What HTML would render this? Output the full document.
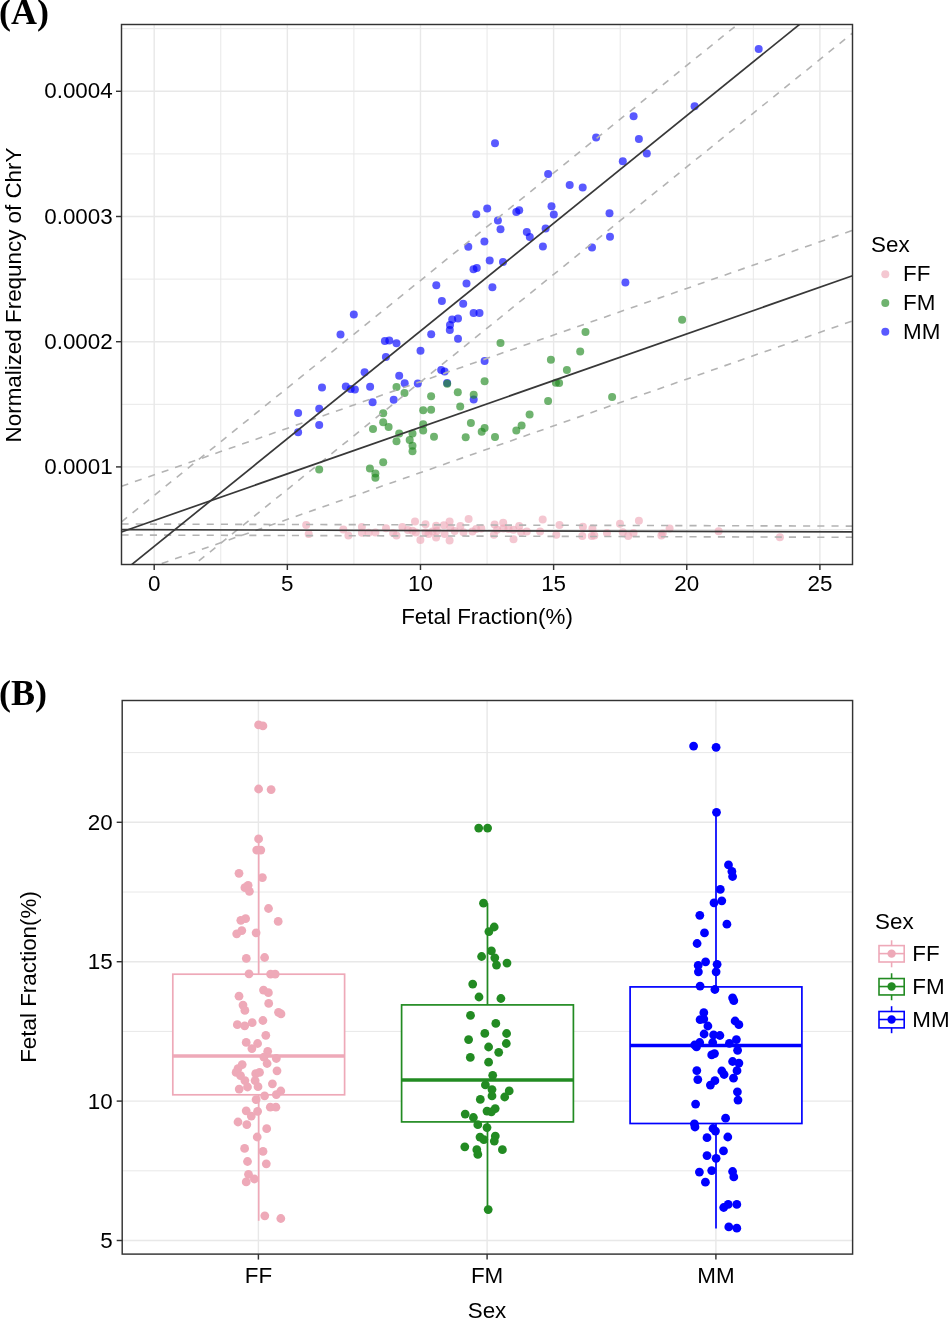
<!DOCTYPE html>
<html><head><meta charset="utf-8"><style>html,body{margin:0;padding:0;background:#fff;}svg{display:block;will-change:transform;}</style></head>
<body><svg width="948" height="1320" viewBox="0 0 948 1320">
<defs><clipPath id="clipA"><rect x="121.5" y="24.5" width="731" height="540"/></clipPath></defs>
<rect width="948" height="1320" fill="#fff"/>
<rect x="121.5" y="24.5" width="731.0" height="540.0" fill="#fff"/>
<line x1="220.77" y1="24.5" x2="220.77" y2="564.5" stroke="#e8e8e8" stroke-width="1.0"/>
<line x1="353.91" y1="24.5" x2="353.91" y2="564.5" stroke="#e8e8e8" stroke-width="1.0"/>
<line x1="487.05" y1="24.5" x2="487.05" y2="564.5" stroke="#e8e8e8" stroke-width="1.0"/>
<line x1="620.19" y1="24.5" x2="620.19" y2="564.5" stroke="#e8e8e8" stroke-width="1.0"/>
<line x1="753.33" y1="24.5" x2="753.33" y2="564.5" stroke="#e8e8e8" stroke-width="1.0"/>
<line x1="121.5" y1="529.50" x2="852.5" y2="529.50" stroke="#e8e8e8" stroke-width="1.0"/>
<line x1="121.5" y1="404.30" x2="852.5" y2="404.30" stroke="#e8e8e8" stroke-width="1.0"/>
<line x1="121.5" y1="279.10" x2="852.5" y2="279.10" stroke="#e8e8e8" stroke-width="1.0"/>
<line x1="121.5" y1="153.90" x2="852.5" y2="153.90" stroke="#e8e8e8" stroke-width="1.0"/>
<line x1="121.5" y1="28.70" x2="852.5" y2="28.70" stroke="#e8e8e8" stroke-width="1.0"/>
<line x1="154.20" y1="24.5" x2="154.20" y2="564.5" stroke="#e8e8e8" stroke-width="1.4"/>
<line x1="287.34" y1="24.5" x2="287.34" y2="564.5" stroke="#e8e8e8" stroke-width="1.4"/>
<line x1="420.48" y1="24.5" x2="420.48" y2="564.5" stroke="#e8e8e8" stroke-width="1.4"/>
<line x1="553.62" y1="24.5" x2="553.62" y2="564.5" stroke="#e8e8e8" stroke-width="1.4"/>
<line x1="686.76" y1="24.5" x2="686.76" y2="564.5" stroke="#e8e8e8" stroke-width="1.4"/>
<line x1="819.90" y1="24.5" x2="819.90" y2="564.5" stroke="#e8e8e8" stroke-width="1.4"/>
<line x1="121.5" y1="466.90" x2="852.5" y2="466.90" stroke="#e8e8e8" stroke-width="1.4"/>
<line x1="121.5" y1="341.70" x2="852.5" y2="341.70" stroke="#e8e8e8" stroke-width="1.4"/>
<line x1="121.5" y1="216.50" x2="852.5" y2="216.50" stroke="#e8e8e8" stroke-width="1.4"/>
<line x1="121.5" y1="91.30" x2="852.5" y2="91.30" stroke="#e8e8e8" stroke-width="1.4"/>
<g>
<circle cx="306.2" cy="524.9" r="4" fill="#eea9b8" fill-opacity="0.65"/>
<circle cx="308.7" cy="534.1" r="4" fill="#eea9b8" fill-opacity="0.65"/>
<circle cx="343.3" cy="529.4" r="4" fill="#eea9b8" fill-opacity="0.65"/>
<circle cx="348.4" cy="535.5" r="4" fill="#eea9b8" fill-opacity="0.65"/>
<circle cx="361.9" cy="527.0" r="4" fill="#eea9b8" fill-opacity="0.65"/>
<circle cx="361.9" cy="532.8" r="4" fill="#eea9b8" fill-opacity="0.65"/>
<circle cx="368.6" cy="532.8" r="4" fill="#eea9b8" fill-opacity="0.65"/>
<circle cx="375.4" cy="532.4" r="4" fill="#eea9b8" fill-opacity="0.65"/>
<circle cx="386.0" cy="528.2" r="4" fill="#eea9b8" fill-opacity="0.65"/>
<circle cx="393.1" cy="532.9" r="4" fill="#eea9b8" fill-opacity="0.65"/>
<circle cx="396.5" cy="535.5" r="4" fill="#eea9b8" fill-opacity="0.65"/>
<circle cx="402.4" cy="527.0" r="4" fill="#eea9b8" fill-opacity="0.65"/>
<circle cx="407.9" cy="529.9" r="4" fill="#eea9b8" fill-opacity="0.65"/>
<circle cx="412.5" cy="530.8" r="4" fill="#eea9b8" fill-opacity="0.65"/>
<circle cx="415.0" cy="521.5" r="4" fill="#eea9b8" fill-opacity="0.65"/>
<circle cx="415.9" cy="532.4" r="4" fill="#eea9b8" fill-opacity="0.65"/>
<circle cx="420.4" cy="540.0" r="4" fill="#eea9b8" fill-opacity="0.65"/>
<circle cx="425.5" cy="524.3" r="4" fill="#eea9b8" fill-opacity="0.65"/>
<circle cx="425.5" cy="532.4" r="4" fill="#eea9b8" fill-opacity="0.65"/>
<circle cx="428.5" cy="534.1" r="4" fill="#eea9b8" fill-opacity="0.65"/>
<circle cx="436.1" cy="525.7" r="4" fill="#eea9b8" fill-opacity="0.65"/>
<circle cx="436.1" cy="537.5" r="4" fill="#eea9b8" fill-opacity="0.65"/>
<circle cx="437.0" cy="530.8" r="4" fill="#eea9b8" fill-opacity="0.65"/>
<circle cx="432.5" cy="531.6" r="4" fill="#eea9b8" fill-opacity="0.65"/>
<circle cx="443.9" cy="525.3" r="4" fill="#eea9b8" fill-opacity="0.65"/>
<circle cx="444.6" cy="534.1" r="4" fill="#eea9b8" fill-opacity="0.65"/>
<circle cx="449.6" cy="521.5" r="4" fill="#eea9b8" fill-opacity="0.65"/>
<circle cx="450.3" cy="527.8" r="4" fill="#eea9b8" fill-opacity="0.65"/>
<circle cx="449.6" cy="540.4" r="4" fill="#eea9b8" fill-opacity="0.65"/>
<circle cx="454.7" cy="531.0" r="4" fill="#eea9b8" fill-opacity="0.65"/>
<circle cx="460.4" cy="525.9" r="4" fill="#eea9b8" fill-opacity="0.65"/>
<circle cx="463.5" cy="532.2" r="4" fill="#eea9b8" fill-opacity="0.65"/>
<circle cx="468.6" cy="518.9" r="4" fill="#eea9b8" fill-opacity="0.65"/>
<circle cx="472.4" cy="531.6" r="4" fill="#eea9b8" fill-opacity="0.65"/>
<circle cx="476.2" cy="529.1" r="4" fill="#eea9b8" fill-opacity="0.65"/>
<circle cx="481.3" cy="528.4" r="4" fill="#eea9b8" fill-opacity="0.65"/>
<circle cx="494.6" cy="524.6" r="4" fill="#eea9b8" fill-opacity="0.65"/>
<circle cx="493.9" cy="534.7" r="4" fill="#eea9b8" fill-opacity="0.65"/>
<circle cx="497.1" cy="529.7" r="4" fill="#eea9b8" fill-opacity="0.65"/>
<circle cx="503.2" cy="522.7" r="4" fill="#eea9b8" fill-opacity="0.65"/>
<circle cx="503.4" cy="528.4" r="4" fill="#eea9b8" fill-opacity="0.65"/>
<circle cx="508.5" cy="529.1" r="4" fill="#eea9b8" fill-opacity="0.65"/>
<circle cx="513.5" cy="529.7" r="4" fill="#eea9b8" fill-opacity="0.65"/>
<circle cx="513.5" cy="539.2" r="4" fill="#eea9b8" fill-opacity="0.65"/>
<circle cx="519.2" cy="525.9" r="4" fill="#eea9b8" fill-opacity="0.65"/>
<circle cx="521.1" cy="532.2" r="4" fill="#eea9b8" fill-opacity="0.65"/>
<circle cx="526.8" cy="531.6" r="4" fill="#eea9b8" fill-opacity="0.65"/>
<circle cx="540.1" cy="531.6" r="4" fill="#eea9b8" fill-opacity="0.65"/>
<circle cx="542.7" cy="519.6" r="4" fill="#eea9b8" fill-opacity="0.65"/>
<circle cx="559.5" cy="525.0" r="4" fill="#eea9b8" fill-opacity="0.65"/>
<circle cx="556.3" cy="534.7" r="4" fill="#eea9b8" fill-opacity="0.65"/>
<circle cx="582.9" cy="526.8" r="4" fill="#eea9b8" fill-opacity="0.65"/>
<circle cx="582.3" cy="536.0" r="4" fill="#eea9b8" fill-opacity="0.65"/>
<circle cx="592.4" cy="528.4" r="4" fill="#eea9b8" fill-opacity="0.65"/>
<circle cx="591.8" cy="536.0" r="4" fill="#eea9b8" fill-opacity="0.65"/>
<circle cx="594.3" cy="535.4" r="4" fill="#eea9b8" fill-opacity="0.65"/>
<circle cx="607.0" cy="533.1" r="4" fill="#eea9b8" fill-opacity="0.65"/>
<circle cx="620.0" cy="523.7" r="4" fill="#eea9b8" fill-opacity="0.65"/>
<circle cx="622.8" cy="532.2" r="4" fill="#eea9b8" fill-opacity="0.65"/>
<circle cx="628.2" cy="536.0" r="4" fill="#eea9b8" fill-opacity="0.65"/>
<circle cx="633.5" cy="533.1" r="4" fill="#eea9b8" fill-opacity="0.65"/>
<circle cx="638.9" cy="520.8" r="4" fill="#eea9b8" fill-opacity="0.65"/>
<circle cx="661.4" cy="535.4" r="4" fill="#eea9b8" fill-opacity="0.65"/>
<circle cx="662.7" cy="533.5" r="4" fill="#eea9b8" fill-opacity="0.65"/>
<circle cx="669.6" cy="528.4" r="4" fill="#eea9b8" fill-opacity="0.65"/>
<circle cx="718.6" cy="531.3" r="4" fill="#eea9b8" fill-opacity="0.65"/>
<circle cx="779.9" cy="537.2" r="4" fill="#eea9b8" fill-opacity="0.65"/>
<circle cx="682.1" cy="319.7" r="4" fill="#228b22" fill-opacity="0.65"/>
<circle cx="585.5" cy="332.1" r="4" fill="#228b22" fill-opacity="0.65"/>
<circle cx="396.5" cy="387.0" r="4" fill="#228b22" fill-opacity="0.65"/>
<circle cx="404.5" cy="392.9" r="4" fill="#228b22" fill-opacity="0.65"/>
<circle cx="431.1" cy="396.2" r="4" fill="#228b22" fill-opacity="0.65"/>
<circle cx="457.8" cy="392.2" r="4" fill="#228b22" fill-opacity="0.65"/>
<circle cx="423.2" cy="410.2" r="4" fill="#228b22" fill-opacity="0.65"/>
<circle cx="431.1" cy="409.7" r="4" fill="#228b22" fill-opacity="0.65"/>
<circle cx="460.2" cy="406.4" r="4" fill="#228b22" fill-opacity="0.65"/>
<circle cx="383.2" cy="413.3" r="4" fill="#228b22" fill-opacity="0.65"/>
<circle cx="383.2" cy="422.2" r="4" fill="#228b22" fill-opacity="0.65"/>
<circle cx="388.6" cy="427.0" r="4" fill="#228b22" fill-opacity="0.65"/>
<circle cx="373.0" cy="428.9" r="4" fill="#228b22" fill-opacity="0.65"/>
<circle cx="423.2" cy="424.3" r="4" fill="#228b22" fill-opacity="0.65"/>
<circle cx="423.2" cy="430.6" r="4" fill="#228b22" fill-opacity="0.65"/>
<circle cx="470.9" cy="423.0" r="4" fill="#228b22" fill-opacity="0.65"/>
<circle cx="399.2" cy="433.6" r="4" fill="#228b22" fill-opacity="0.65"/>
<circle cx="412.5" cy="433.6" r="4" fill="#228b22" fill-opacity="0.65"/>
<circle cx="434.0" cy="436.8" r="4" fill="#228b22" fill-opacity="0.65"/>
<circle cx="465.7" cy="437.2" r="4" fill="#228b22" fill-opacity="0.65"/>
<circle cx="396.5" cy="441.2" r="4" fill="#228b22" fill-opacity="0.65"/>
<circle cx="409.7" cy="439.9" r="4" fill="#228b22" fill-opacity="0.65"/>
<circle cx="412.5" cy="445.8" r="4" fill="#228b22" fill-opacity="0.65"/>
<circle cx="412.5" cy="451.3" r="4" fill="#228b22" fill-opacity="0.65"/>
<circle cx="383.2" cy="462.3" r="4" fill="#228b22" fill-opacity="0.65"/>
<circle cx="319.2" cy="469.5" r="4" fill="#228b22" fill-opacity="0.65"/>
<circle cx="369.9" cy="468.6" r="4" fill="#228b22" fill-opacity="0.65"/>
<circle cx="375.4" cy="473.5" r="4" fill="#228b22" fill-opacity="0.65"/>
<circle cx="375.4" cy="477.7" r="4" fill="#228b22" fill-opacity="0.65"/>
<circle cx="500.5" cy="343.1" r="4" fill="#228b22" fill-opacity="0.65"/>
<circle cx="580.2" cy="351.5" r="4" fill="#228b22" fill-opacity="0.65"/>
<circle cx="550.9" cy="359.7" r="4" fill="#228b22" fill-opacity="0.65"/>
<circle cx="566.9" cy="369.9" r="4" fill="#228b22" fill-opacity="0.65"/>
<circle cx="484.6" cy="381.3" r="4" fill="#228b22" fill-opacity="0.65"/>
<circle cx="555.9" cy="382.7" r="4" fill="#228b22" fill-opacity="0.65"/>
<circle cx="559.1" cy="383.0" r="4" fill="#228b22" fill-opacity="0.65"/>
<circle cx="612.1" cy="397.1" r="4" fill="#228b22" fill-opacity="0.65"/>
<circle cx="548.1" cy="400.9" r="4" fill="#228b22" fill-opacity="0.65"/>
<circle cx="529.6" cy="414.4" r="4" fill="#228b22" fill-opacity="0.65"/>
<circle cx="521.6" cy="425.4" r="4" fill="#228b22" fill-opacity="0.65"/>
<circle cx="516.3" cy="430.6" r="4" fill="#228b22" fill-opacity="0.65"/>
<circle cx="484.6" cy="427.9" r="4" fill="#228b22" fill-opacity="0.65"/>
<circle cx="481.7" cy="431.7" r="4" fill="#228b22" fill-opacity="0.65"/>
<circle cx="495.0" cy="437.0" r="4" fill="#228b22" fill-opacity="0.65"/>
<circle cx="495.0" cy="143.2" r="4" fill="#0000ff" fill-opacity="0.65"/>
<circle cx="548.1" cy="174.0" r="4" fill="#0000ff" fill-opacity="0.65"/>
<circle cx="596.1" cy="137.6" r="4" fill="#0000ff" fill-opacity="0.65"/>
<circle cx="633.6" cy="116.3" r="4" fill="#0000ff" fill-opacity="0.65"/>
<circle cx="638.9" cy="138.9" r="4" fill="#0000ff" fill-opacity="0.65"/>
<circle cx="622.8" cy="161.2" r="4" fill="#0000ff" fill-opacity="0.65"/>
<circle cx="646.8" cy="153.4" r="4" fill="#0000ff" fill-opacity="0.65"/>
<circle cx="694.6" cy="106.2" r="4" fill="#0000ff" fill-opacity="0.65"/>
<circle cx="758.7" cy="49.0" r="4" fill="#0000ff" fill-opacity="0.65"/>
<circle cx="476.3" cy="214.2" r="4" fill="#0000ff" fill-opacity="0.65"/>
<circle cx="468.3" cy="246.7" r="4" fill="#0000ff" fill-opacity="0.65"/>
<circle cx="473.5" cy="269.2" r="4" fill="#0000ff" fill-opacity="0.65"/>
<circle cx="476.8" cy="268.0" r="4" fill="#0000ff" fill-opacity="0.65"/>
<circle cx="436.3" cy="285.3" r="4" fill="#0000ff" fill-opacity="0.65"/>
<circle cx="466.5" cy="283.4" r="4" fill="#0000ff" fill-opacity="0.65"/>
<circle cx="441.9" cy="301.0" r="4" fill="#0000ff" fill-opacity="0.65"/>
<circle cx="463.2" cy="303.8" r="4" fill="#0000ff" fill-opacity="0.65"/>
<circle cx="353.8" cy="314.6" r="4" fill="#0000ff" fill-opacity="0.65"/>
<circle cx="473.6" cy="313.0" r="4" fill="#0000ff" fill-opacity="0.65"/>
<circle cx="479.5" cy="313.0" r="4" fill="#0000ff" fill-opacity="0.65"/>
<circle cx="452.2" cy="319.5" r="4" fill="#0000ff" fill-opacity="0.65"/>
<circle cx="458.0" cy="318.5" r="4" fill="#0000ff" fill-opacity="0.65"/>
<circle cx="450.0" cy="325.0" r="4" fill="#0000ff" fill-opacity="0.65"/>
<circle cx="569.7" cy="184.9" r="4" fill="#0000ff" fill-opacity="0.65"/>
<circle cx="582.7" cy="187.6" r="4" fill="#0000ff" fill-opacity="0.65"/>
<circle cx="487.2" cy="208.5" r="4" fill="#0000ff" fill-opacity="0.65"/>
<circle cx="516.3" cy="211.9" r="4" fill="#0000ff" fill-opacity="0.65"/>
<circle cx="519.2" cy="210.2" r="4" fill="#0000ff" fill-opacity="0.65"/>
<circle cx="551.5" cy="206.2" r="4" fill="#0000ff" fill-opacity="0.65"/>
<circle cx="553.8" cy="214.6" r="4" fill="#0000ff" fill-opacity="0.65"/>
<circle cx="609.5" cy="213.3" r="4" fill="#0000ff" fill-opacity="0.65"/>
<circle cx="497.9" cy="220.5" r="4" fill="#0000ff" fill-opacity="0.65"/>
<circle cx="500.5" cy="229.2" r="4" fill="#0000ff" fill-opacity="0.65"/>
<circle cx="526.8" cy="232.1" r="4" fill="#0000ff" fill-opacity="0.65"/>
<circle cx="529.8" cy="237.0" r="4" fill="#0000ff" fill-opacity="0.65"/>
<circle cx="545.6" cy="228.5" r="4" fill="#0000ff" fill-opacity="0.65"/>
<circle cx="610.0" cy="236.8" r="4" fill="#0000ff" fill-opacity="0.65"/>
<circle cx="484.4" cy="241.6" r="4" fill="#0000ff" fill-opacity="0.65"/>
<circle cx="542.9" cy="246.5" r="4" fill="#0000ff" fill-opacity="0.65"/>
<circle cx="592.0" cy="247.5" r="4" fill="#0000ff" fill-opacity="0.65"/>
<circle cx="489.7" cy="260.4" r="4" fill="#0000ff" fill-opacity="0.65"/>
<circle cx="503.0" cy="261.9" r="4" fill="#0000ff" fill-opacity="0.65"/>
<circle cx="625.4" cy="282.5" r="4" fill="#0000ff" fill-opacity="0.65"/>
<circle cx="492.4" cy="287.2" r="4" fill="#0000ff" fill-opacity="0.65"/>
<circle cx="449.8" cy="330.1" r="4" fill="#0000ff" fill-opacity="0.65"/>
<circle cx="340.5" cy="334.6" r="4" fill="#0000ff" fill-opacity="0.65"/>
<circle cx="384.9" cy="341.0" r="4" fill="#0000ff" fill-opacity="0.65"/>
<circle cx="389.3" cy="340.5" r="4" fill="#0000ff" fill-opacity="0.65"/>
<circle cx="396.5" cy="343.3" r="4" fill="#0000ff" fill-opacity="0.65"/>
<circle cx="431.2" cy="334.3" r="4" fill="#0000ff" fill-opacity="0.65"/>
<circle cx="458.0" cy="338.8" r="4" fill="#0000ff" fill-opacity="0.65"/>
<circle cx="420.5" cy="350.7" r="4" fill="#0000ff" fill-opacity="0.65"/>
<circle cx="385.9" cy="357.0" r="4" fill="#0000ff" fill-opacity="0.65"/>
<circle cx="364.6" cy="372.2" r="4" fill="#0000ff" fill-opacity="0.65"/>
<circle cx="399.2" cy="375.8" r="4" fill="#0000ff" fill-opacity="0.65"/>
<circle cx="441.2" cy="370.1" r="4" fill="#0000ff" fill-opacity="0.65"/>
<circle cx="444.6" cy="371.4" r="4" fill="#0000ff" fill-opacity="0.65"/>
<circle cx="322.0" cy="387.6" r="4" fill="#0000ff" fill-opacity="0.65"/>
<circle cx="345.8" cy="386.5" r="4" fill="#0000ff" fill-opacity="0.65"/>
<circle cx="350.7" cy="389.1" r="4" fill="#0000ff" fill-opacity="0.65"/>
<circle cx="354.9" cy="389.5" r="4" fill="#0000ff" fill-opacity="0.65"/>
<circle cx="370.1" cy="386.8" r="4" fill="#0000ff" fill-opacity="0.65"/>
<circle cx="404.7" cy="383.2" r="4" fill="#0000ff" fill-opacity="0.65"/>
<circle cx="417.8" cy="383.4" r="4" fill="#0000ff" fill-opacity="0.65"/>
<circle cx="447.1" cy="383.1" r="4" fill="#0000ff" fill-opacity="0.65"/>
<circle cx="372.6" cy="402.2" r="4" fill="#0000ff" fill-opacity="0.65"/>
<circle cx="393.7" cy="399.8" r="4" fill="#0000ff" fill-opacity="0.65"/>
<circle cx="473.7" cy="399.4" r="4" fill="#0000ff" fill-opacity="0.65"/>
<circle cx="298.1" cy="412.9" r="4" fill="#0000ff" fill-opacity="0.65"/>
<circle cx="319.2" cy="408.7" r="4" fill="#0000ff" fill-opacity="0.65"/>
<circle cx="319.2" cy="425.1" r="4" fill="#0000ff" fill-opacity="0.65"/>
<circle cx="298.1" cy="432.3" r="4" fill="#0000ff" fill-opacity="0.65"/>
<circle cx="484.6" cy="361.0" r="4" fill="#0000ff" fill-opacity="0.65"/>
<circle cx="447.2" cy="383.8" r="4" fill="#228b22" fill-opacity="0.65"/>
<circle cx="473.7" cy="394.8" r="4" fill="#228b22" fill-opacity="0.65"/>
</g>
<g clip-path="url(#clipA)">
<line x1="121.50" y1="524.00" x2="852.50" y2="526.10" stroke="#b3b3b3" stroke-width="1.6" stroke-dasharray="7.1 7.1"/>
<line x1="121.50" y1="535.00" x2="852.50" y2="537.30" stroke="#b3b3b3" stroke-width="1.6" stroke-dasharray="7.1 7.1"/>
<line x1="121.50" y1="486.31" x2="852.50" y2="230.39" stroke="#b3b3b3" stroke-width="1.6" stroke-dasharray="7.1 7.1"/>
<line x1="121.50" y1="577.60" x2="852.50" y2="320.89" stroke="#b3b3b3" stroke-width="1.6" stroke-dasharray="7.1 7.1"/>
<line x1="121.50" y1="521.86" x2="852.50" y2="-68.35" stroke="#b3b3b3" stroke-width="1.6" stroke-dasharray="7.1 7.1"/>
<line x1="121.50" y1="623.39" x2="852.50" y2="33.10" stroke="#b3b3b3" stroke-width="1.6" stroke-dasharray="7.1 7.1"/>
<line x1="121.50" y1="529.60" x2="852.50" y2="531.90" stroke="#383838" stroke-width="1.7"/>
<line x1="121.50" y1="531.95" x2="852.50" y2="275.78" stroke="#383838" stroke-width="1.7"/>
<line x1="121.50" y1="572.83" x2="852.50" y2="-18.42" stroke="#383838" stroke-width="1.7"/>
</g>
<rect x="121.5" y="24.5" width="731.0" height="540.0" fill="none" stroke="#333" stroke-width="1.45"/>
<line x1="154.20" y1="564.5" x2="154.20" y2="570.0" stroke="#333" stroke-width="1.45"/>
<text x="154.20" y="591" font-family="Liberation Sans, sans-serif" font-size="22.4" text-anchor="middle">0</text>
<line x1="287.34" y1="564.5" x2="287.34" y2="570.0" stroke="#333" stroke-width="1.45"/>
<text x="287.34" y="591" font-family="Liberation Sans, sans-serif" font-size="22.4" text-anchor="middle">5</text>
<line x1="420.48" y1="564.5" x2="420.48" y2="570.0" stroke="#333" stroke-width="1.45"/>
<text x="420.48" y="591" font-family="Liberation Sans, sans-serif" font-size="22.4" text-anchor="middle">10</text>
<line x1="553.62" y1="564.5" x2="553.62" y2="570.0" stroke="#333" stroke-width="1.45"/>
<text x="553.62" y="591" font-family="Liberation Sans, sans-serif" font-size="22.4" text-anchor="middle">15</text>
<line x1="686.76" y1="564.5" x2="686.76" y2="570.0" stroke="#333" stroke-width="1.45"/>
<text x="686.76" y="591" font-family="Liberation Sans, sans-serif" font-size="22.4" text-anchor="middle">20</text>
<line x1="819.90" y1="564.5" x2="819.90" y2="570.0" stroke="#333" stroke-width="1.45"/>
<text x="819.90" y="591" font-family="Liberation Sans, sans-serif" font-size="22.4" text-anchor="middle">25</text>
<line x1="116.0" y1="466.90" x2="121.5" y2="466.90" stroke="#333" stroke-width="1.45"/>
<text x="112.7" y="473.90" font-family="Liberation Sans, sans-serif" font-size="22.4" text-anchor="end">0.0001</text>
<line x1="116.0" y1="341.70" x2="121.5" y2="341.70" stroke="#333" stroke-width="1.45"/>
<text x="112.7" y="348.70" font-family="Liberation Sans, sans-serif" font-size="22.4" text-anchor="end">0.0002</text>
<line x1="116.0" y1="216.50" x2="121.5" y2="216.50" stroke="#333" stroke-width="1.45"/>
<text x="112.7" y="223.50" font-family="Liberation Sans, sans-serif" font-size="22.4" text-anchor="end">0.0003</text>
<line x1="116.0" y1="91.30" x2="121.5" y2="91.30" stroke="#333" stroke-width="1.45"/>
<text x="112.7" y="98.30" font-family="Liberation Sans, sans-serif" font-size="22.4" text-anchor="end">0.0004</text>
<text x="487" y="624" font-family="Liberation Sans, sans-serif" font-size="22.4" text-anchor="middle">Fetal Fraction(%)</text>
<text transform="translate(21,295) rotate(-90)" font-family="Liberation Sans, sans-serif" font-size="22.4" text-anchor="middle">Normalized Frequncy of ChrY</text>
<text x="871" y="252.2" font-family="Liberation Sans, sans-serif" font-size="22.4">Sex</text>
<circle cx="885.3" cy="274.2" r="4" fill="rgba(238,169,184,0.65)"/>
<text x="903" y="281.4" font-family="Liberation Sans, sans-serif" font-size="22.4">FF</text>
<circle cx="885.3" cy="303.0" r="4" fill="rgba(34,139,34,0.65)"/>
<text x="903" y="310.2" font-family="Liberation Sans, sans-serif" font-size="22.4">FM</text>
<circle cx="885.3" cy="331.8" r="4" fill="rgba(0,0,255,0.65)"/>
<text x="903" y="339.0" font-family="Liberation Sans, sans-serif" font-size="22.4">MM</text>
<text x="-1" y="24.4" font-family="Liberation Serif, serif" font-weight="bold" font-size="36">(A)</text>
<rect x="122.2" y="700.5" width="730.4" height="553.5999999999999" fill="#fff"/>
<line x1="122.2" y1="1170.80" x2="852.6" y2="1170.80" stroke="#e8e8e8" stroke-width="1.0"/>
<line x1="122.2" y1="1031.40" x2="852.6" y2="1031.40" stroke="#e8e8e8" stroke-width="1.0"/>
<line x1="122.2" y1="892.00" x2="852.6" y2="892.00" stroke="#e8e8e8" stroke-width="1.0"/>
<line x1="122.2" y1="752.60" x2="852.6" y2="752.60" stroke="#e8e8e8" stroke-width="1.0"/>
<line x1="122.2" y1="1240.50" x2="852.6" y2="1240.50" stroke="#e8e8e8" stroke-width="1.4"/>
<line x1="122.2" y1="1101.10" x2="852.6" y2="1101.10" stroke="#e8e8e8" stroke-width="1.4"/>
<line x1="122.2" y1="961.70" x2="852.6" y2="961.70" stroke="#e8e8e8" stroke-width="1.4"/>
<line x1="122.2" y1="822.30" x2="852.6" y2="822.30" stroke="#e8e8e8" stroke-width="1.4"/>
<line x1="258.4" y1="700.5" x2="258.4" y2="1254.1" stroke="#e8e8e8" stroke-width="1.4"/>
<line x1="487.1" y1="700.5" x2="487.1" y2="1254.1" stroke="#e8e8e8" stroke-width="1.4"/>
<line x1="715.9" y1="700.5" x2="715.9" y2="1254.1" stroke="#e8e8e8" stroke-width="1.4"/>
<line x1="258.7" y1="839.0" x2="258.7" y2="974.2" stroke="#eea9b8" stroke-width="1.7"/>
<line x1="258.7" y1="1094.8" x2="258.7" y2="1220.8" stroke="#eea9b8" stroke-width="1.7"/>
<rect x="172.80" y="974.2" width="171.80" height="120.60" fill="#fff" stroke="#eea9b8" stroke-width="1.7"/>
<line x1="172.80" y1="1056.0" x2="344.60" y2="1056.0" stroke="#eea9b8" stroke-width="3.5"/>
<line x1="487.5" y1="903.2" x2="487.5" y2="1004.9" stroke="#228b22" stroke-width="1.7"/>
<line x1="487.5" y1="1121.9" x2="487.5" y2="1209.6" stroke="#228b22" stroke-width="1.7"/>
<rect x="401.60" y="1004.9" width="171.80" height="117.00" fill="#fff" stroke="#228b22" stroke-width="1.7"/>
<line x1="401.60" y1="1079.9" x2="573.40" y2="1079.9" stroke="#228b22" stroke-width="3.5"/>
<line x1="716.0" y1="812.3" x2="716.0" y2="986.9" stroke="#0000ff" stroke-width="1.7"/>
<line x1="716.0" y1="1123.5" x2="716.0" y2="1228.4" stroke="#0000ff" stroke-width="1.7"/>
<rect x="630.10" y="986.9" width="171.80" height="136.60" fill="#fff" stroke="#0000ff" stroke-width="1.7"/>
<line x1="630.10" y1="1045.4" x2="801.90" y2="1045.4" stroke="#0000ff" stroke-width="3.5"/>
<g fill="#eea9b8"><circle cx="258.6" cy="724.9" r="4.4"/><circle cx="262.9" cy="725.9" r="4.4"/><circle cx="258.6" cy="789.0" r="4.4"/><circle cx="271.1" cy="789.6" r="4.4"/><circle cx="258.6" cy="838.9" r="4.4"/><circle cx="256.7" cy="850.1" r="4.4"/><circle cx="260.8" cy="850.1" r="4.4"/><circle cx="239.0" cy="873.3" r="4.4"/><circle cx="262.4" cy="877.6" r="4.4"/><circle cx="248.1" cy="885.3" r="4.4"/><circle cx="244.9" cy="887.7" r="4.4"/><circle cx="249.4" cy="891.3" r="4.4"/><circle cx="268.5" cy="908.5" r="4.4"/><circle cx="245.6" cy="918.7" r="4.4"/><circle cx="240.8" cy="920.3" r="4.4"/><circle cx="278.2" cy="921.4" r="4.4"/><circle cx="241.8" cy="930.6" r="4.4"/><circle cx="236.7" cy="933.8" r="4.4"/><circle cx="256.1" cy="932.8" r="4.4"/><circle cx="246.3" cy="958.4" r="4.4"/><circle cx="264.6" cy="957.5" r="4.4"/><circle cx="249.0" cy="973.8" r="4.4"/><circle cx="270.6" cy="974.2" r="4.4"/><circle cx="275.2" cy="974.2" r="4.4"/><circle cx="239.0" cy="996.2" r="4.4"/><circle cx="263.5" cy="990.1" r="4.4"/><circle cx="268.4" cy="992.7" r="4.4"/><circle cx="243.0" cy="1005.1" r="4.4"/><circle cx="244.9" cy="1010.4" r="4.4"/><circle cx="268.7" cy="1003.4" r="4.4"/><circle cx="278.5" cy="1012.3" r="4.4"/><circle cx="281.0" cy="1013.9" r="4.4"/><circle cx="237.3" cy="1024.7" r="4.4"/><circle cx="244.7" cy="1025.8" r="4.4"/><circle cx="252.2" cy="1022.7" r="4.4"/><circle cx="262.9" cy="1020.5" r="4.4"/><circle cx="265.8" cy="1035.3" r="4.4"/><circle cx="246.2" cy="1042.4" r="4.4"/><circle cx="257.6" cy="1043.5" r="4.4"/><circle cx="251.9" cy="1048.6" r="4.4"/><circle cx="267.7" cy="1051.3" r="4.4"/><circle cx="263.9" cy="1057.2" r="4.4"/><circle cx="276.3" cy="1058.5" r="4.4"/><circle cx="267.1" cy="1063.5" r="4.4"/><circle cx="242.2" cy="1064.6" r="4.4"/><circle cx="238.0" cy="1068.6" r="4.4"/><circle cx="236.1" cy="1072.4" r="4.4"/><circle cx="240.5" cy="1075.6" r="4.4"/><circle cx="244.9" cy="1080.6" r="4.4"/><circle cx="247.5" cy="1087.0" r="4.4"/><circle cx="239.2" cy="1089.1" r="4.4"/><circle cx="255.7" cy="1073.7" r="4.4"/><circle cx="259.5" cy="1072.4" r="4.4"/><circle cx="255.1" cy="1080.6" r="4.4"/><circle cx="258.0" cy="1086.7" r="4.4"/><circle cx="277.0" cy="1070.8" r="4.4"/><circle cx="272.4" cy="1083.8" r="4.4"/><circle cx="280.8" cy="1091.0" r="4.4"/><circle cx="276.3" cy="1094.6" r="4.4"/><circle cx="264.6" cy="1095.8" r="4.4"/><circle cx="256.1" cy="1099.6" r="4.4"/><circle cx="270.3" cy="1107.2" r="4.4"/><circle cx="275.9" cy="1107.2" r="4.4"/><circle cx="246.2" cy="1110.8" r="4.4"/><circle cx="257.6" cy="1111.3" r="4.4"/><circle cx="251.3" cy="1116.1" r="4.4"/><circle cx="238.0" cy="1122.0" r="4.4"/><circle cx="246.8" cy="1124.6" r="4.4"/><circle cx="266.7" cy="1128.7" r="4.4"/><circle cx="257.2" cy="1137.0" r="4.4"/><circle cx="244.6" cy="1148.4" r="4.4"/><circle cx="263.0" cy="1151.4" r="4.4"/><circle cx="247.5" cy="1161.5" r="4.4"/><circle cx="266.3" cy="1163.8" r="4.4"/><circle cx="248.5" cy="1174.3" r="4.4"/><circle cx="254.4" cy="1179.0" r="4.4"/><circle cx="246.2" cy="1181.9" r="4.4"/><circle cx="264.8" cy="1215.8" r="4.4"/><circle cx="280.8" cy="1218.5" r="4.4"/></g>
<g fill="#228b22"><circle cx="478.7" cy="828.1" r="4.4"/><circle cx="487.6" cy="828.1" r="4.4"/><circle cx="483.5" cy="903.2" r="4.4"/><circle cx="494.2" cy="927.0" r="4.4"/><circle cx="488.9" cy="931.6" r="4.4"/><circle cx="491.4" cy="950.8" r="4.4"/><circle cx="481.6" cy="956.5" r="4.4"/><circle cx="494.8" cy="957.8" r="4.4"/><circle cx="496.5" cy="965.1" r="4.4"/><circle cx="507.0" cy="963.1" r="4.4"/><circle cx="472.7" cy="984.1" r="4.4"/><circle cx="479.0" cy="997.0" r="4.4"/><circle cx="500.9" cy="998.5" r="4.4"/><circle cx="470.5" cy="1015.4" r="4.4"/><circle cx="495.8" cy="1023.4" r="4.4"/><circle cx="484.8" cy="1033.4" r="4.4"/><circle cx="506.6" cy="1033.5" r="4.4"/><circle cx="468.6" cy="1039.6" r="4.4"/><circle cx="506.3" cy="1043.5" r="4.4"/><circle cx="488.6" cy="1047.0" r="4.4"/><circle cx="498.7" cy="1052.3" r="4.4"/><circle cx="470.3" cy="1057.4" r="4.4"/><circle cx="488.6" cy="1062.2" r="4.4"/><circle cx="492.7" cy="1075.3" r="4.4"/><circle cx="485.4" cy="1084.9" r="4.4"/><circle cx="492.0" cy="1089.6" r="4.4"/><circle cx="492.0" cy="1095.9" r="4.4"/><circle cx="509.2" cy="1090.9" r="4.4"/><circle cx="504.7" cy="1097.0" r="4.4"/><circle cx="480.3" cy="1099.4" r="4.4"/><circle cx="495.2" cy="1108.6" r="4.4"/><circle cx="487.0" cy="1111.1" r="4.4"/><circle cx="491.4" cy="1111.8" r="4.4"/><circle cx="465.2" cy="1114.1" r="4.4"/><circle cx="473.4" cy="1117.5" r="4.4"/><circle cx="477.8" cy="1124.7" r="4.4"/><circle cx="487.0" cy="1127.6" r="4.4"/><circle cx="480.0" cy="1137.1" r="4.4"/><circle cx="483.8" cy="1139.6" r="4.4"/><circle cx="495.3" cy="1136.1" r="4.4"/><circle cx="494.3" cy="1141.1" r="4.4"/><circle cx="464.8" cy="1146.8" r="4.4"/><circle cx="476.8" cy="1149.7" r="4.4"/><circle cx="477.8" cy="1154.4" r="4.4"/><circle cx="502.4" cy="1149.7" r="4.4"/><circle cx="488.2" cy="1209.6" r="4.4"/></g>
<g fill="#0000ff"><circle cx="693.6" cy="746.1" r="4.4"/><circle cx="716.1" cy="747.3" r="4.4"/><circle cx="716.5" cy="812.3" r="4.4"/><circle cx="728.5" cy="864.9" r="4.4"/><circle cx="731.9" cy="871.4" r="4.4"/><circle cx="732.6" cy="876.5" r="4.4"/><circle cx="720.3" cy="889.4" r="4.4"/><circle cx="721.8" cy="900.8" r="4.4"/><circle cx="714.0" cy="902.8" r="4.4"/><circle cx="699.8" cy="915.3" r="4.4"/><circle cx="726.9" cy="924.2" r="4.4"/><circle cx="704.5" cy="932.9" r="4.4"/><circle cx="697.1" cy="943.5" r="4.4"/><circle cx="705.6" cy="961.8" r="4.4"/><circle cx="717.1" cy="964.3" r="4.4"/><circle cx="698.2" cy="965.4" r="4.4"/><circle cx="698.4" cy="971.8" r="4.4"/><circle cx="716.1" cy="971.8" r="4.4"/><circle cx="700.1" cy="986.1" r="4.4"/><circle cx="714.9" cy="989.5" r="4.4"/><circle cx="732.6" cy="997.8" r="4.4"/><circle cx="733.8" cy="1000.7" r="4.4"/><circle cx="703.8" cy="1012.7" r="4.4"/><circle cx="700.1" cy="1019.7" r="4.4"/><circle cx="703.8" cy="1019.1" r="4.4"/><circle cx="707.9" cy="1026.0" r="4.4"/><circle cx="735.1" cy="1021.0" r="4.4"/><circle cx="738.9" cy="1024.7" r="4.4"/><circle cx="704.1" cy="1034.0" r="4.4"/><circle cx="713.6" cy="1034.9" r="4.4"/><circle cx="719.9" cy="1035.5" r="4.4"/><circle cx="736.4" cy="1039.6" r="4.4"/><circle cx="699.7" cy="1042.5" r="4.4"/><circle cx="694.6" cy="1045.0" r="4.4"/><circle cx="696.5" cy="1046.9" r="4.4"/><circle cx="712.7" cy="1042.5" r="4.4"/><circle cx="729.4" cy="1043.4" r="4.4"/><circle cx="737.6" cy="1050.3" r="4.4"/><circle cx="711.7" cy="1054.9" r="4.4"/><circle cx="714.5" cy="1053.6" r="4.4"/><circle cx="732.6" cy="1061.5" r="4.4"/><circle cx="738.9" cy="1063.1" r="4.4"/><circle cx="696.8" cy="1070.6" r="4.4"/><circle cx="721.8" cy="1071.0" r="4.4"/><circle cx="724.1" cy="1074.5" r="4.4"/><circle cx="737.0" cy="1070.7" r="4.4"/><circle cx="733.5" cy="1078.2" r="4.4"/><circle cx="697.8" cy="1079.6" r="4.4"/><circle cx="714.9" cy="1080.7" r="4.4"/><circle cx="710.4" cy="1085.1" r="4.4"/><circle cx="737.4" cy="1091.8" r="4.4"/><circle cx="738.0" cy="1100.1" r="4.4"/><circle cx="695.6" cy="1104.1" r="4.4"/><circle cx="725.6" cy="1118.2" r="4.4"/><circle cx="694.4" cy="1123.9" r="4.4"/><circle cx="695.0" cy="1127.0" r="4.4"/><circle cx="713.0" cy="1128.5" r="4.4"/><circle cx="715.5" cy="1131.1" r="4.4"/><circle cx="707.0" cy="1137.7" r="4.4"/><circle cx="727.8" cy="1137.0" r="4.4"/><circle cx="723.5" cy="1150.9" r="4.4"/><circle cx="707.0" cy="1155.6" r="4.4"/><circle cx="716.1" cy="1158.3" r="4.4"/><circle cx="699.4" cy="1172.1" r="4.4"/><circle cx="711.7" cy="1170.6" r="4.4"/><circle cx="732.6" cy="1171.5" r="4.4"/><circle cx="733.8" cy="1176.9" r="4.4"/><circle cx="705.4" cy="1182.2" r="4.4"/><circle cx="723.7" cy="1207.5" r="4.4"/><circle cx="728.2" cy="1204.4" r="4.4"/><circle cx="736.8" cy="1204.4" r="4.4"/><circle cx="728.8" cy="1226.9" r="4.4"/><circle cx="736.8" cy="1228.2" r="4.4"/></g>
<rect x="122.2" y="700.5" width="730.4" height="553.5999999999999" fill="none" stroke="#333" stroke-width="1.45"/>
<line x1="258.4" y1="1254.1" x2="258.4" y2="1259.6" stroke="#333" stroke-width="1.45"/>
<text x="258.4" y="1283" font-family="Liberation Sans, sans-serif" font-size="22.4" text-anchor="middle">FF</text>
<line x1="487.1" y1="1254.1" x2="487.1" y2="1259.6" stroke="#333" stroke-width="1.45"/>
<text x="487.1" y="1283" font-family="Liberation Sans, sans-serif" font-size="22.4" text-anchor="middle">FM</text>
<line x1="715.9" y1="1254.1" x2="715.9" y2="1259.6" stroke="#333" stroke-width="1.45"/>
<text x="715.9" y="1283" font-family="Liberation Sans, sans-serif" font-size="22.4" text-anchor="middle">MM</text>
<line x1="116.7" y1="1240.50" x2="122.2" y2="1240.50" stroke="#333" stroke-width="1.45"/>
<text x="112.7" y="1248.00" font-family="Liberation Sans, sans-serif" font-size="22.4" text-anchor="end">5</text>
<line x1="116.7" y1="1101.10" x2="122.2" y2="1101.10" stroke="#333" stroke-width="1.45"/>
<text x="112.7" y="1108.60" font-family="Liberation Sans, sans-serif" font-size="22.4" text-anchor="end">10</text>
<line x1="116.7" y1="961.70" x2="122.2" y2="961.70" stroke="#333" stroke-width="1.45"/>
<text x="112.7" y="969.20" font-family="Liberation Sans, sans-serif" font-size="22.4" text-anchor="end">15</text>
<line x1="116.7" y1="822.30" x2="122.2" y2="822.30" stroke="#333" stroke-width="1.45"/>
<text x="112.7" y="829.80" font-family="Liberation Sans, sans-serif" font-size="22.4" text-anchor="end">20</text>
<text x="487" y="1318.4" font-family="Liberation Sans, sans-serif" font-size="22.4" text-anchor="middle">Sex</text>
<text transform="translate(35.7,977) rotate(-90)" font-family="Liberation Sans, sans-serif" font-size="22.4" text-anchor="middle">Fetal Fraction(%)</text>
<text x="875" y="929.2" font-family="Liberation Sans, sans-serif" font-size="22.4">Sex</text>
<line x1="891.6" y1="940.3000000000001" x2="891.6" y2="967.3000000000001" stroke="#eea9b8" stroke-width="1.6"/>
<rect x="879" y="945.60" width="25.2" height="16.4" fill="#fff" stroke="#eea9b8" stroke-width="1.6"/>
<line x1="879" y1="953.6" x2="904.2" y2="953.6" stroke="#eea9b8" stroke-width="1.6"/>
<circle cx="891.6" cy="953.6" r="4.2" fill="#eea9b8"/>
<text x="912.3" y="960.80" font-family="Liberation Sans, sans-serif" font-size="22.4">FF</text>
<line x1="891.6" y1="973.2500000000001" x2="891.6" y2="1000.2500000000001" stroke="#228b22" stroke-width="1.6"/>
<rect x="879" y="978.55" width="25.2" height="16.4" fill="#fff" stroke="#228b22" stroke-width="1.6"/>
<line x1="879" y1="986.5500000000001" x2="904.2" y2="986.5500000000001" stroke="#228b22" stroke-width="1.6"/>
<circle cx="891.6" cy="986.5500000000001" r="4.2" fill="#228b22"/>
<text x="912.3" y="993.75" font-family="Liberation Sans, sans-serif" font-size="22.4">FM</text>
<line x1="891.6" y1="1006.2" x2="891.6" y2="1033.2" stroke="#0000ff" stroke-width="1.6"/>
<rect x="879" y="1011.50" width="25.2" height="16.4" fill="#fff" stroke="#0000ff" stroke-width="1.6"/>
<line x1="879" y1="1019.5" x2="904.2" y2="1019.5" stroke="#0000ff" stroke-width="1.6"/>
<circle cx="891.6" cy="1019.5" r="4.2" fill="#0000ff"/>
<text x="912.3" y="1026.70" font-family="Liberation Sans, sans-serif" font-size="22.4">MM</text>
<text x="-1" y="705.3" font-family="Liberation Serif, serif" font-weight="bold" font-size="36">(B)</text>
</svg></body></html>
